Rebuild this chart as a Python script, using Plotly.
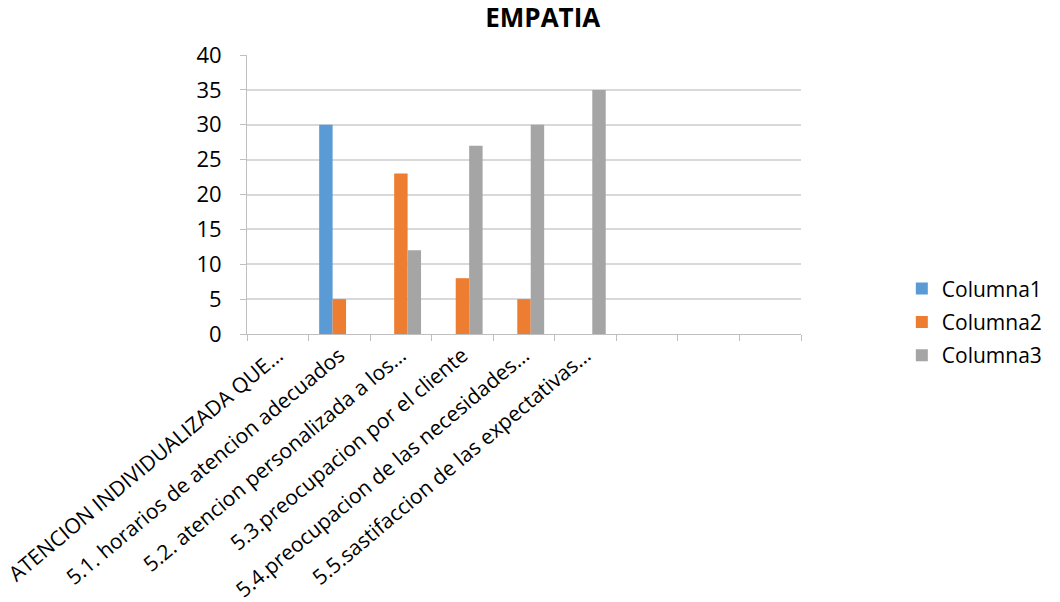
import plotly.graph_objects as go

categories = [
    "ATENCION INDIVIDUALIZADA QUE…",
    "5.1. horarios de atencion adecuados",
    "5.2. atencion personalizada a los…",
    "5.3.preocupacion por el cliente",
    "5.4.preocupacion de las necesidades…",
    "5.5.sastifaccion de las expectativas…",
    "\u200b",
    "\u200b\u200b",
    "\u200b\u200b\u200b",
]
columna1 = [0, 30, 0, 0, 0, 0, 0, 0, 0]
columna2 = [0, 5, 23, 8, 5, 0, 0, 0, 0]
columna3 = [0, 0, 12, 27, 30, 35, 0, 0, 0]
series_names = ["Columna1", "Columna2", "Columna3"]
colors = ["#5B9BD5", "#ED7D31", "#A5A5A5"]

fig = go.Figure()
for name, vals, col in zip(series_names, [columna1, columna2, columna3], colors):
    fig.add_trace(go.Bar(x=categories, y=vals, name=name, legendgroup=name,
                         marker=dict(color=col, line=dict(width=0))))

font_family = "Open Sans, Liberation Sans, sans-serif"
fig.update_layout(
    width=1060, height=602,
    paper_bgcolor="white", plot_bgcolor="white",
    margin=dict(l=247, r=257, t=55, b=268),
    barmode="group", bargap=0.345, bargroupgap=0,
    title=dict(text="<b>EMPATIA</b>", x=0.512, xanchor="center", y=0.97, yanchor="middle",
               font=dict(family=font_family, size=26, color="#000000")),
    font=dict(family=font_family, color="#000000"),
    showlegend=True,
    legend=dict(x=1.182, y=0.235, xanchor="left", yanchor="top",
                font=dict(size=21, color="#000000"), tracegroupgap=3,
                traceorder="grouped", borderwidth=0,
                itemwidth=30, bgcolor="rgba(0,0,0,0)"),
    xaxis=dict(type="category", tickangle=-40, tickson="boundaries",
               ticks="outside", ticklen=6, tickcolor="#bfbfbf",
               showline=True, linecolor="#bfbfbf", linewidth=1,
               showgrid=False, automargin=False,
               tickfont=dict(size=21, color="#000000")),
    yaxis=dict(range=[0, 40], dtick=5, showgrid=True, gridcolor="#d9d9d9", gridwidth=1.5,
               zeroline=False, showline=True, linecolor="#bfbfbf", linewidth=1,
               ticks="outside", ticklen=6, tickcolor="#bfbfbf", automargin=False,
               ticklabelstandoff=14,
               tickfont=dict(size=22, color="#000000")),
)
fig.write_html("out.html")
